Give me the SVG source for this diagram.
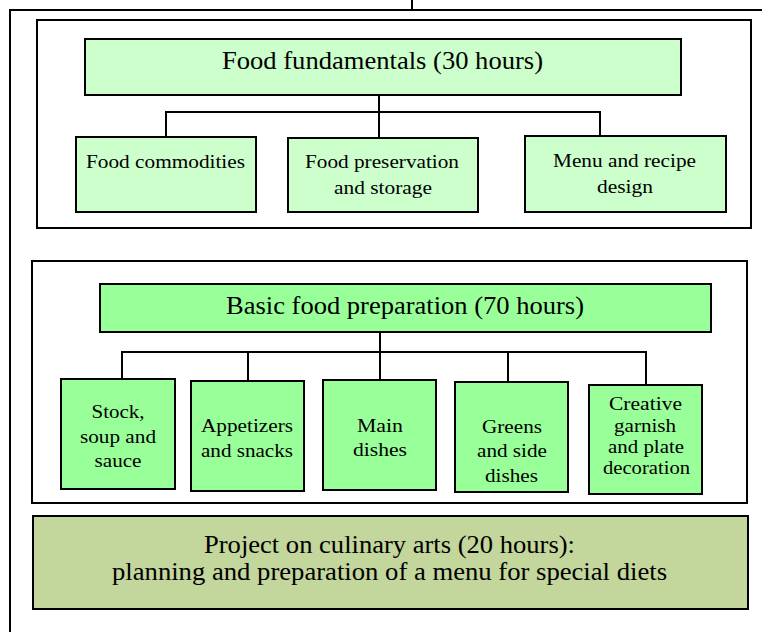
<svg xmlns="http://www.w3.org/2000/svg" width="762" height="632" viewBox="0 0 762 632" font-family="'Liberation Serif', Tinos, 'Times New Roman', 'DejaVu Serif', serif">
<style>
text{font-family:'Liberation Serif', Tinos, 'Times New Roman', 'DejaVu Serif', serif;fill:#000;text-anchor:middle}
.frame{fill:none;stroke:#000;stroke-width:2}
.sec{fill:#fff;stroke:#000;stroke-width:2}
.l1{fill:#ccffcc;stroke:#000;stroke-width:2}
.l2{fill:#99ff99;stroke:#000;stroke-width:2}
.proj{fill:#c3d69b;stroke:#000;stroke-width:2}
.conn{fill:none;stroke:#000;stroke-width:2}
.big{font-size:25px}
.mid{font-size:19.5px}
.sm{font-size:19px}
.pj{font-size:25px}
</style>
<rect width="762" height="632" fill="#fff"/>
<g id="outer-frame">
<path class="frame" d="M412 0V10M10 632V10H762"/>
</g>
<g id="section-fundamentals">
<rect class="sec" x="37" y="20" width="714" height="208"/>
</g>
<g id="section-basic">
<rect class="sec" x="32" y="261" width="715" height="242"/>
</g>
<g id="connectors">
<path class="conn" d="M379 95V137M166 137V112H600V136"/>
<path class="conn" d="M380 332V381M122 379V352H646V384M248 351V380M508 352V382"/>
</g>
<g id="food-fundamentals">
<rect class="l1" x="85" y="39" width="596" height="56"/>
<text class="big" x="382.5" y="69" textLength="321" lengthAdjust="spacingAndGlyphs">Food fundamentals (30 hours)</text>
</g>
<g id="food-commodities">
<rect class="l1" x="76" y="137" width="180" height="75"/>
<text class="sm" x="165.5" y="167.5" textLength="159" lengthAdjust="spacingAndGlyphs">Food commodities</text>
</g>
<g id="food-preservation">
<rect class="l1" x="288" y="138" width="190" height="74"/>
<text class="sm" x="382" y="167.5" textLength="154" lengthAdjust="spacingAndGlyphs">Food preservation</text>
<text class="sm" x="383" y="194" textLength="98" lengthAdjust="spacingAndGlyphs">and storage</text>
</g>
<g id="menu-design">
<rect class="l1" x="525" y="136" width="201" height="76"/>
<text class="sm" x="624.5" y="166.5" textLength="143" lengthAdjust="spacingAndGlyphs">Menu and recipe</text>
<text class="sm" x="625" y="192.5" textLength="56" lengthAdjust="spacingAndGlyphs">design</text>
</g>
<g id="basic-food-preparation">
<rect class="l2" x="100" y="284" width="611" height="48"/>
<text class="big" x="405" y="314" textLength="358" lengthAdjust="spacingAndGlyphs">Basic food preparation (70 hours)</text>
</g>
<g id="stock-soup-sauce">
<rect class="l2" x="61" y="379" width="114" height="110"/>
<text class="mid" x="118" y="417.5" textLength="53" lengthAdjust="spacingAndGlyphs">Stock,</text>
<text class="mid" x="118" y="442.5" textLength="76" lengthAdjust="spacingAndGlyphs">soup and</text>
<text class="mid" x="118" y="466.5" textLength="47" lengthAdjust="spacingAndGlyphs">sauce</text>
</g>
<g id="appetizers">
<rect class="l2" x="191" y="381" width="113" height="110"/>
<text class="mid" x="247" y="431.5" textLength="92" lengthAdjust="spacingAndGlyphs">Appetizers</text>
<text class="mid" x="247" y="456.5" textLength="92" lengthAdjust="spacingAndGlyphs">and snacks</text>
</g>
<g id="main-dishes">
<rect class="l2" x="323" y="380" width="113" height="110"/>
<text class="mid" x="380" y="431.5" textLength="46" lengthAdjust="spacingAndGlyphs">Main</text>
<text class="mid" x="380" y="455.5" textLength="54" lengthAdjust="spacingAndGlyphs">dishes</text>
</g>
<g id="greens-side">
<rect class="l2" x="455" y="382" width="113" height="110"/>
<text class="mid" x="512" y="432.5" textLength="60" lengthAdjust="spacingAndGlyphs">Greens</text>
<text class="mid" x="512" y="457" textLength="70" lengthAdjust="spacingAndGlyphs">and side</text>
<text class="mid" x="511.5" y="481.5" textLength="53" lengthAdjust="spacingAndGlyphs">dishes</text>
</g>
<g id="creative-garnish">
<rect class="l2" x="589" y="385" width="113" height="109"/>
<text class="mid" x="645.5" y="410" textLength="73" lengthAdjust="spacingAndGlyphs">Creative</text>
<text class="mid" x="645" y="431.5" textLength="62" lengthAdjust="spacingAndGlyphs">garnish</text>
<text class="mid" x="646" y="452.5" textLength="76" lengthAdjust="spacingAndGlyphs">and plate</text>
<text class="mid" x="646.5" y="473.5" textLength="87" lengthAdjust="spacingAndGlyphs">decoration</text>
</g>
<g id="project">
<rect class="proj" x="33" y="516" width="715" height="93"/>
<text class="pj" x="389.5" y="553" textLength="371" lengthAdjust="spacingAndGlyphs">Project on culinary arts (20 hours):</text>
<text class="pj" x="389.5" y="580" textLength="555" lengthAdjust="spacingAndGlyphs">planning and preparation of a menu for special diets</text>
</g>
</svg>
